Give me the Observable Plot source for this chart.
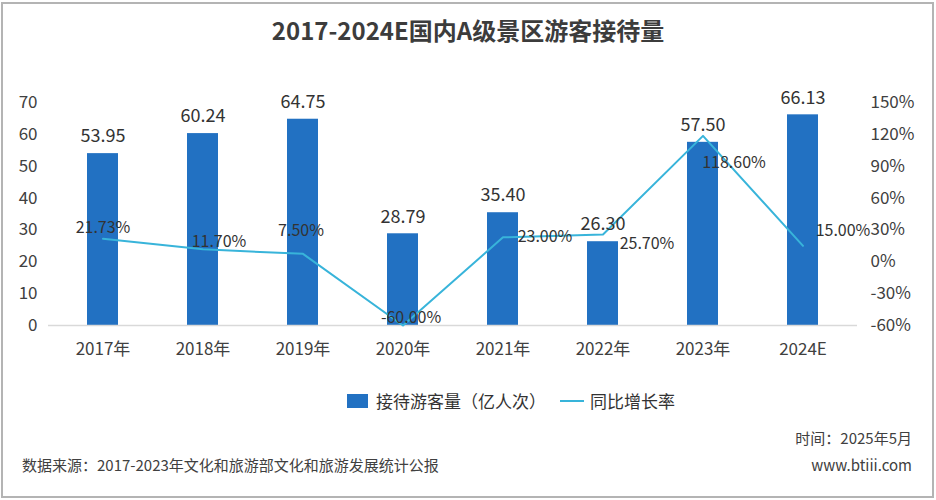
<!DOCTYPE html>
<html>
<head>
<meta charset="utf-8">
<script src="https://cdn.jsdelivr.net/npm/d3@7"></script>
<script src="https://cdn.jsdelivr.net/npm/@observablehq/plot@0.6"></script>
<style>
  html, body { margin: 0; padding: 0; background: #fff; }
  #wrap { position: relative; width: 936px; height: 500px; overflow: hidden; font-family: "Noto Sans CJK SC", "Noto Sans", sans-serif; color: #404040; }
  #frame { position: absolute; left: 1px; top: 2px; width: 929px; height: 492px; border: 2px solid #b4b4b4; box-sizing: content-box; }
  #title { position: absolute; left: 0; width: 936px; top: 12px; text-align: center; font-size: 24px; font-weight: bold; color: #3c3c3c; }
  #chart { position: absolute; left: 0; top: 80px; }
  #legend { position: absolute; top: 388px; left: 347px; display: flex; align-items: center; font-size: 17px; color: #333; white-space: nowrap; }
  .sw-bar { display: inline-block; width: 21px; height: 14px; margin-right: 8px; }
  .sw-line { display: inline-block; width: 24px; height: 2px; margin: 0 6px 0 14px; }
  .foot { position: absolute; font-size: 15px; color: #404040; white-space: nowrap; }
</style>
</head>
<body>
<div id="wrap">
  <div id="frame"></div>
  <div id="title"></div>
  <div id="chart"></div>
  <div id="legend"></div>
  <div class="foot" id="date" style="right:24px; top:427px;"></div>
  <div class="foot" id="source" style="left:22px; top:454px;"></div>
  <div class="foot" id="site" style="right:24px; top:454px;"></div>
</div>
<script>
// ---- data ----
const titleText = "2017-2024E国内A级景区游客接待量";
const years = ["2017年", "2018年", "2019年", "2020年", "2021年", "2022年", "2023年", "2024E"];
const visitors = [53.95, 60.24, 64.75, 28.79, 35.40, 26.30, 57.50, 66.13];
const growth = [21.73, 11.70, 7.50, -60.00, 23.00, 25.70, 118.60, 15.00];
const leftTicks = [0, 10, 20, 30, 40, 50, 60, 70];
const rightTicks = [-60, -30, 0, 30, 60, 90, 120, 150];
const seriesNames = ["接待游客量（亿人次）", "同比增长率"];
const dateText = "时间：2025年5月";
const sourceText = "数据来源：2017-2023年文化和旅游部文化和旅游发展统计公报";
const siteText = "www.btiii.com";

// ---- styling ----
const barColor = "#2271C2";
const lineColor = "#38B4DA";
const textColor = "#333333";
const font = "Noto Sans CJK SC";

// right axis (percent) maps onto the left scale: [-60,150] -> [0,70]
const toLeft = g => (g + 60) / 3;
const fromLeft = v => Math.round(v * 3 - 60);

const rows = years.map((y, i) => ({year: y, visitors: visitors[i], growth: growth[i], i}));

// label offsets for percent labels (as in the original layout)
const pctOffsets = [[0, -11], [16, -7], [-2, -23], [8, -8], [42, 0], [44, 9], [31, 27], [40, -15]];

const pctMarks = pctOffsets.map(([dx, dy], k) =>
  Plot.text(rows.filter(d => d.i === k), {
    x: "year", y: d => toLeft(d.growth), text: d => d.growth.toFixed(2) + "%",
    dx, dy, fill: textColor, fontSize: 16, fontFamily: font
  })
);

const chart = Plot.plot({
  width: 936,
  height: 290,
  marginTop: 22,
  marginBottom: 45,
  marginLeft: 48,
  marginRight: 79,
  style: {fontFamily: font, fontSize: "17px", color: "#404040", background: "transparent", overflow: "visible"},
  x: {domain: years, paddingInner: 0.69, paddingOuter: 0.35, axis: null},
  y: {domain: [0, 70], axis: null},
  marks: [
    Plot.barY(rows, {x: "year", y: "visitors", fill: barColor}),
    Plot.ruleY([0], {stroke: "#d9d9d9", strokeWidth: 1.5}),
    Plot.axisY({ticks: leftTicks, tickSize: 0, tickPadding: 11, label: null, fontSize: 17, fontFamily: font}),
    Plot.axisY({anchor: "right", ticks: rightTicks.map(toLeft), tickFormat: d => fromLeft(d) + "%",
      tickSize: 0, tickPadding: 13, label: null, line: true, stroke: "#8c8c8c", fontSize: 17, fontFamily: font}),
    Plot.axisX({tickSize: 0, tickPadding: 17, label: null, fontSize: 17, fontFamily: font}),
    Plot.line(rows, {x: "year", y: d => toLeft(d.growth), stroke: lineColor, strokeWidth: 2}),
    Plot.text(rows, {x: "year", y: "visitors", text: d => d.visitors.toFixed(2), dy: -17,
      fill: textColor, fontSize: 18, fontFamily: font}),
    ...pctMarks
  ]
});
document.getElementById("chart").appendChild(chart);

document.getElementById("title").textContent = titleText;
document.getElementById("date").textContent = dateText;
document.getElementById("source").textContent = sourceText;
document.getElementById("site").textContent = siteText;

const legend = document.getElementById("legend");
legend.innerHTML =
  `<span class="sw-bar" style="background:${barColor}"></span><span>${seriesNames[0]}</span>` +
  `<span class="sw-line" style="background:${lineColor}"></span><span>${seriesNames[1]}</span>`;
</script>
</body>
</html>
